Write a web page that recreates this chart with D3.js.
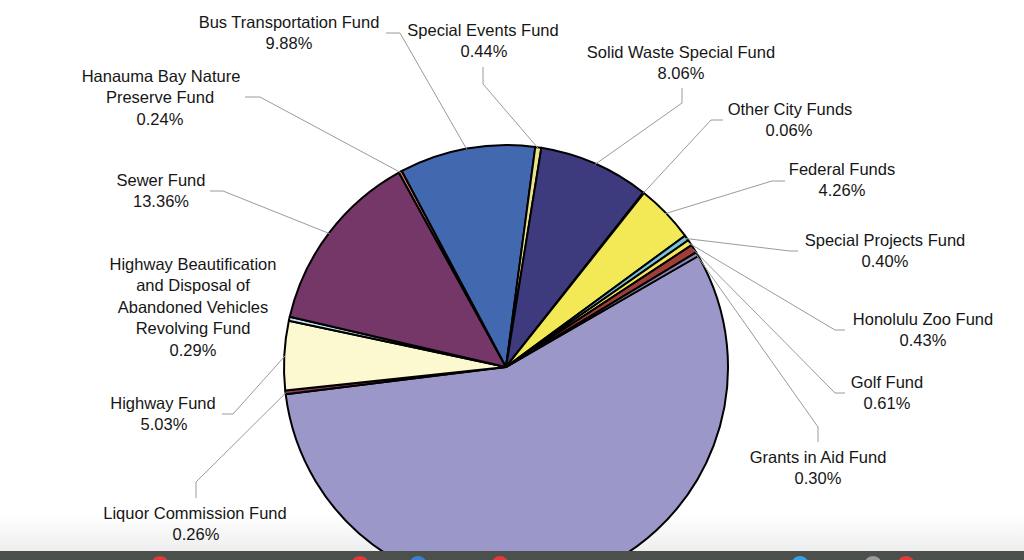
<!DOCTYPE html>
<html>
<head>
<meta charset="utf-8">
<script src="https://cdn.jsdelivr.net/npm/d3@7/dist/d3.min.js"></script>
<style>
  html, body { margin: 0; padding: 0; background: #ffffff; }
  svg { display: block; }
</style>
</head>
<body>
<svg id="chart" width="1024" height="560"></svg>
<script>
// ---- Data (clockwise from the large unlabeled slice) ----
const funds = [
  "General Fund",
  "Liquor Commission Fund",
  "Highway Fund",
  "Highway Beautification and Disposal of Abandoned Vehicles Revolving Fund",
  "Sewer Fund",
  "Hanauma Bay Nature Preserve Fund",
  "Bus Transportation Fund",
  "Special Events Fund",
  "Solid Waste Special Fund",
  "Other City Funds",
  "Federal Funds",
  "Special Projects Fund",
  "Honolulu Zoo Fund",
  "Golf Fund",
  "Grants in Aid Fund"
];
const shares = [56.38, 0.26, 5.03, 0.29, 13.36, 0.24, 9.88, 0.44, 8.06, 0.06, 4.26, 0.40, 0.43, 0.61, 0.30];
const labelLines = [
  null,
  ["Liquor Commission Fund"],
  ["Highway Fund"],
  ["Highway Beautification", "and Disposal of", "Abandoned Vehicles", "Revolving Fund"],
  ["Sewer Fund"],
  ["Hanauma Bay Nature", "Preserve Fund"],
  ["Bus Transportation Fund"],
  ["Special Events Fund"],
  ["Solid Waste Special Fund"],
  ["Other City Funds"],
  ["Federal Funds"],
  ["Special Projects Fund"],
  ["Honolulu Zoo Fund"],
  ["Golf Fund"],
  ["Grants in Aid Fund"]
];
const colors = [
  "#9b98c9", "#8e3b58", "#fcf8d0", "#c4e2ea", "#743767", "#e2826f", "#4268b0",
  "#ebe389", "#3d3a7e", "#6f6fa8", "#f3e956", "#78c3dc", "#f1e65c", "#a13d37", "#8c89b9"
];

// ---- Layout (label positions, leader elbows) ----
const layout = {
  "Liquor Commission Fund": { xs: [195, 196], y: 513, lead: [[196, 498], [196, 482]] },
  "Highway Fund": { xs: [163, 164], y: 403, lead: [[222, 414], [233, 414]] },
  "Highway Beautification and Disposal of Abandoned Vehicles Revolving Fund": { xs: [193, 193, 193, 193, 193], y: 264, lead: null },
  "Sewer Fund": { xs: [161, 161], y: 180, lead: [[210, 191], [223, 191]] },
  "Hanauma Bay Nature Preserve Fund": { xs: [161, 160, 160], y: 76, lead: [[245, 97], [260, 97]] },
  "Bus Transportation Fund": { xs: [289, 289], y: 22, lead: [[386, 33], [400, 33]] },
  "Special Events Fund": { xs: [483, 484], y: 30, lead: [[483, 67], [483, 84]] },
  "Solid Waste Special Fund": { xs: [681, 681], y: 52, lead: [[682, 88], [682, 103]] },
  "Other City Funds": { xs: [790, 789], y: 109, lead: [[723, 120], [711, 120]] },
  "Federal Funds": { xs: [842, 842], y: 169, lead: [[785, 181], [772, 181]] },
  "Special Projects Fund": { xs: [885, 885], y: 240, lead: [[798, 251], [790, 251]] },
  "Honolulu Zoo Fund": { xs: [923, 923], y: 319, lead: [[845, 330], [835, 330]] },
  "Golf Fund": { xs: [887, 887], y: 382, lead: [[845, 393], [835, 393]] },
  "Grants in Aid Fund": { xs: [818, 818], y: 457, lead: [[818, 442], [818, 427]] }
};

const W = 1024, H = 560;
const cx = 506, cy = 367, R = 222;
const lineH = 21.5;
const startDeg = 60;

const svg = d3.select("#chart");

// background fade near bottom and dark strip
const defs = svg.append("defs");
const grad = defs.append("linearGradient").attr("id", "fade").attr("x1", 0).attr("y1", 0).attr("x2", 0).attr("y2", 1);
grad.append("stop").attr("offset", "0%").attr("stop-color", "#ffffff");
grad.append("stop").attr("offset", "100%").attr("stop-color", "#eeeeee");
svg.append("rect").attr("x", 0).attr("y", 515).attr("width", W).attr("height", 36).attr("fill", "url(#fade)");

const data = funds.map((f, i) => ({ name: f, value: shares[i], color: colors[i], lines: labelLines[i] }));

const pie = d3.pie().sort(null).value(d => d.value)
  .startAngle(startDeg * Math.PI / 180)
  .endAngle(startDeg * Math.PI / 180 + 2 * Math.PI);
const arcs = pie(data);
const arc = d3.arc().innerRadius(0).outerRadius(R);
const edgeArc = d3.arc().innerRadius(R - 1).outerRadius(R - 1);

const g = svg.append("g").attr("transform", `translate(${cx},${cy})`);

// leader lines (drawn under slices)
const leaders = svg.append("g");
arcs.forEach(a => {
  if (!a.data.lines) return;
  const L = layout[a.data.name];
  if (!L || !L.lead) return;
  const c = edgeArc.centroid(a);
  const pts = L.lead.concat([[cx + c[0], cy + c[1]]]);
  leaders.append("path")
    .attr("d", d3.line()(pts))
    .attr("fill", "none")
    .attr("stroke", "#9a9a9a")
    .attr("stroke-width", 1);
});

g.selectAll("path.slice")
  .data(arcs)
  .join("path")
  .attr("class", "slice")
  .attr("d", arc)
  .attr("fill", d => d.data.color)
  .attr("stroke", "#000")
  .attr("stroke-width", 2)
  .attr("stroke-linejoin", "round");

// labels
const labels = svg.append("g")
  .attr("font-family", "'Liberation Sans', Arial, Helvetica, sans-serif")
  .attr("font-size", 16.5)
  .attr("fill", "#161616")
  .attr("text-anchor", "middle");

arcs.forEach(a => {
  if (!a.data.lines) return;
  const L = layout[a.data.name];
  const all = a.data.lines.concat([d3.format(".2f")(a.data.value) + "%"]);
  all.forEach((t, k) => {
    labels.append("text")
      .attr("x", L.xs[k])
      .attr("y", L.y + k * lineH)
      .attr("dy", "0.35em")
      .text(t);
  });
});

// dark strip at the bottom
svg.append("rect").attr("x", 0).attr("y", 551).attr("width", W).attr("height", 9).attr("fill", "#4b504d");
const blobs = [[160, "#e23a3a"], [360, "#e23a3a"], [418, "#3a7fd0"], [500, "#e23a3a"], [800, "#3aa0e0"], [873, "#9a9a9a"], [906, "#e23a3a"]];
blobs.forEach(b => {
  svg.append("ellipse").attr("cx", b[0]).attr("cy", 563).attr("rx", 8).attr("ry", 7).attr("fill", b[1]);
});
</script>
</body>
</html>
